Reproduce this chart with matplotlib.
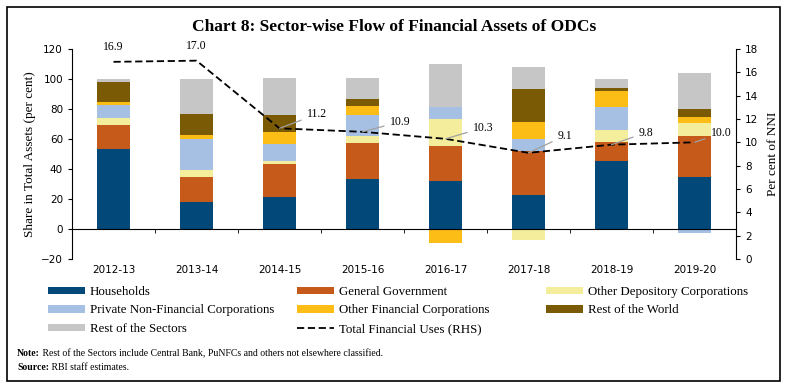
import numpy as np
import matplotlib
matplotlib.use("Agg")
import matplotlib.pyplot as plt
from matplotlib.patches import Rectangle

years = ["2012-13", "2013-14", "2014-15", "2015-16", "2016-17", "2017-18", "2018-19", "2019-20"]

households = [53.4, 18.3, 21.2, 33.3, 32.0, 22.8, 45.1, 34.9]
general_govt = [15.9, 16.3, 22.2, 23.9, 23.6, 29.3, 13.0, 27.2]
other_depository = [4.7, 4.7, 2.0, 4.5, 17.9, -7.4, 7.8, 8.5]
private_nfc = [8.5, 20.8, 11.4, 14.3, 8.1, 8.2, 15.7, -2.9]
other_financial = [2.4, 2.5, 7.6, 6.0, -9.0, 11.2, 10.7, 4.3]
rest_of_world = [12.8, 14.0, 11.6, 4.7, -0.5, 21.9, 2.0, 5.1]
rest_of_sectors = [2.6, 23.4, 24.6, 13.9, 28.6, 14.3, 6.0, 23.7]

total_uses = [16.9, 17.0, 11.2, 10.9, 10.3, 9.1, 9.8, 10.0]

series = [
    ("Households", households, "#02497a"),
    ("General Government", general_govt, "#c55a1b"),
    ("Other Depository Corporations", other_depository, "#f4ee9c"),
    ("Private Non-Financial Corporations", private_nfc, "#a6c0e3"),
    ("Other Financial Corporations", other_financial, "#fdbd17"),
    ("Rest of the World", rest_of_world, "#7a5a04"),
    ("Rest of the Sectors", rest_of_sectors, "#c6c6c6"),
]

serif = "Liberation Serif"
sans = "DejaVu Sans"

fig = plt.figure(figsize=(7.89, 3.87), dpi=100)
W, H = 789, 387

# outer frame
fig.patches.append(Rectangle((7 / W, 6 / H), 773 / W, 374 / H, transform=fig.transFigure,
                             fill=False, edgecolor="black", linewidth=1.2))

fig.text(0.5, 1 - 27 / H, "Chart 8: Sector-wise Flow of Financial Assets of ODCs",
         ha="center", va="center", fontsize=12.5, fontweight="bold", family=serif)

ax = fig.add_axes([72 / W, 1 - 259 / H, 664 / W, 210 / H])
x = np.arange(len(years))
pos_bottom = np.zeros(len(years))
neg_bottom = np.zeros(len(years))
handles = {}
for name, vals, col in series:
    vals = np.array(vals)
    bottom = np.where(vals >= 0, pos_bottom, neg_bottom)
    b = ax.bar(x, vals, 0.4, bottom=bottom, color=col, edgecolor="none", label=name)
    handles[name] = b
    pos_bottom = pos_bottom + np.clip(vals, 0, None)
    neg_bottom = neg_bottom + np.clip(vals, None, 0)

ax.set_xlim(-0.5, len(years) - 0.5)
ax.set_ylim(-20, 120)
ax.set_yticks(range(-20, 121, 20))
ax.spines["top"].set_visible(False)
ax.spines["right"].set_visible(False)
ax.spines["bottom"].set_position(("data", 0))
ax.set_xticks(x)
ax.set_xticklabels(years)
ax.set_xticks(x[:-1] + 0.5, minor=True)
ax.tick_params(axis="x", which="major", length=0, pad=26, labelsize=7.5)
ax.tick_params(axis="x", which="minor", length=3, direction="out")
ax.tick_params(axis="y", length=3, labelsize=7.5)
for lab in ax.get_xticklabels() + ax.get_yticklabels():
    lab.set_family(sans)
ax.set_ylabel("Share in Total Assets (per cent)", family=serif, fontsize=9.5, labelpad=4)

ax2 = ax.twinx()
ax2.set_ylim(0, 18)
ax2.set_yticks(range(0, 19, 2))
ax2.spines["top"].set_visible(False)
ax2.spines["left"].set_visible(False)
ax2.spines["bottom"].set_visible(False)
ax2.tick_params(axis="y", length=3, labelsize=7.5)
for lab in ax2.get_yticklabels():
    lab.set_family(sans)
ax2.set_ylabel("Per cent of NNI", family=serif, fontsize=9.5, labelpad=6)
line, = ax2.plot(x, total_uses, color="black", linestyle=(0, (4, 2)), linewidth=1.3,
                 label="Total Financial Uses (RHS)")

# value labels (offsets in pixels)
label_offsets = [(0, 9), (0, 9), (27, 14), (27, 10), (27, 11), (29, 17), (27, 12), (16, 9)]
for i, v in enumerate(total_uses):
    dx, dy = label_offsets[i]
    if dx == 0:
        ax2.annotate(f"{v:.1f}", (i, v), xytext=(0, dy * 0.72), textcoords="offset points",
                     ha="center", va="bottom", fontsize=8.5, family=serif)
    else:
        ax2.annotate(f"{v:.1f}", (i, v), xytext=(dx * 0.72, dy * 0.72), textcoords="offset points",
                     ha="left", va="center", fontsize=8.5, family=serif,
                     arrowprops=dict(arrowstyle="-", color="#a0a0a0", lw=0.9,
                                     shrinkA=2, shrinkB=0))

# legend in three columns, row-major order
cols = [
    ["Households", "Private Non-Financial Corporations", "Rest of the Sectors"],
    ["General Government", "Other Financial Corporations", "Total Financial Uses (RHS)"],
    ["Other Depository Corporations", "Rest of the World"],
]
col_x = [48, 297, 546]
for cx, names in zip(col_x, cols):
    hs = [line if n.startswith("Total") else handles[n] for n in names]
    fig.legend(hs, names, loc="upper left", bbox_to_anchor=(cx / W, 1 - 286 / H),
               frameon=False, prop={"family": serif, "size": 9.3},
               handlelength=2.9, handleheight=0.5, handletextpad=0.35,
               labelspacing=0.5, borderpad=0, borderaxespad=0)

note = fig.text(17 / W, 1 - 354 / H, "Note:", fontweight="bold", fontsize=7, family=serif, va="center")
src = fig.text(17 / W, 1 - 367 / H, "Source:", fontweight="bold", fontsize=7, family=serif, va="center")
ax.annotate(" Rest of the Sectors include Central Bank, PuNFCs and others not elsewhere classified.",
            xy=(1, 0.5), xycoords=note, va="center", fontsize=7, family=serif,
            annotation_clip=False)
ax.annotate(" RBI staff estimates.", xy=(1, 0.5), xycoords=src, va="center",
            fontsize=7, family=serif, annotation_clip=False)

fig.savefig("out.png", dpi=100)
